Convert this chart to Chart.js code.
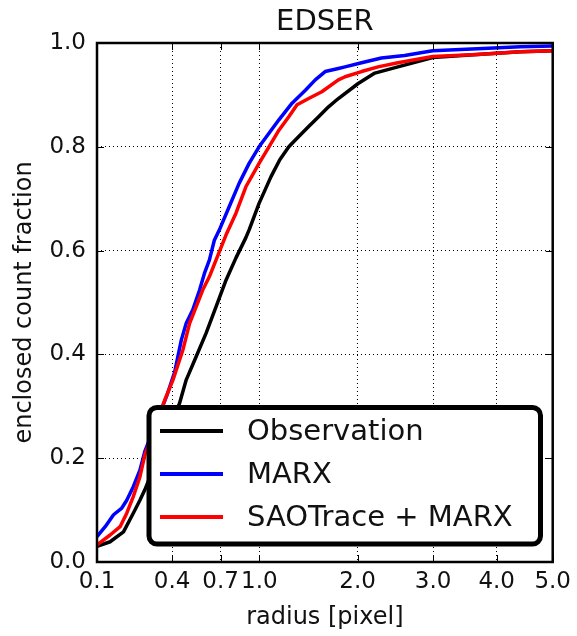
<!DOCTYPE html>
<html>
<head>
<meta charset="utf-8">
<title>EDSER</title>
<script src="https://cdn.jsdelivr.net/npm/chart.js@4.4.0/dist/chart.umd.min.js"></script>
<style>
  body { margin: 0; background: #fff; }
  canvas { display: block; }
</style>
</head>
<body>
<canvas id="myChart" width="577" height="636"></canvas>
<script>
// enclosed count fraction vs radius, three curves
const obsR = [0.100, 0.138, 0.183, 0.220, 0.247, 0.268, 0.441, 0.479, 0.539, 0.602, 0.669, 0.739, 0.813, 0.890, 0.916, 0.998, 1.100, 1.180, 1.264, 1.360, 1.459, 1.562, 1.668, 1.777, 2.007, 2.210, 2.509, 2.994, 3.680, 4.408, 5.000];
const obsFrac = [0.030, 0.039, 0.058, 0.094, 0.119, 0.139, 0.306, 0.351, 0.396, 0.441, 0.492, 0.543, 0.586, 0.625, 0.640, 0.691, 0.742, 0.775, 0.800, 0.820, 0.839, 0.858, 0.877, 0.893, 0.922, 0.942, 0.954, 0.972, 0.978, 0.983, 0.985];

const marxR = [0.100, 0.123, 0.149, 0.177, 0.195, 0.220, 0.247, 0.268, 0.371, 0.414, 0.451, 0.479, 0.518, 0.560, 0.591, 0.624, 0.657, 0.692, 0.763, 0.838, 0.916, 0.998, 1.083, 1.172, 1.295, 1.426, 1.527, 1.632, 1.777, 1.853, 2.047, 2.293, 2.599, 2.994, 3.680, 4.408, 5.000];
const marxFrac = [0.049, 0.068, 0.091, 0.104, 0.119, 0.145, 0.177, 0.213, 0.319, 0.366, 0.428, 0.460, 0.486, 0.524, 0.556, 0.582, 0.620, 0.640, 0.685, 0.730, 0.768, 0.800, 0.826, 0.852, 0.884, 0.909, 0.929, 0.945, 0.951, 0.954, 0.962, 0.971, 0.976, 0.985, 0.989, 0.993, 0.994];

const saoR = [0.100, 0.138, 0.171, 0.195, 0.220, 0.247, 0.268, 0.362, 0.405, 0.460, 0.499, 0.539, 0.580, 0.624, 0.669, 0.739, 0.813, 0.890, 0.998, 1.083, 1.172, 1.264, 1.343, 1.459, 1.596, 1.777, 1.853, 2.047, 2.251, 2.509, 2.994, 3.680, 4.408, 5.000];
const saoFrac = [0.033, 0.052, 0.068, 0.094, 0.126, 0.164, 0.206, 0.312, 0.351, 0.409, 0.460, 0.492, 0.524, 0.550, 0.582, 0.630, 0.672, 0.723, 0.768, 0.800, 0.832, 0.858, 0.881, 0.893, 0.906, 0.929, 0.935, 0.945, 0.954, 0.962, 0.974, 0.978, 0.983, 0.985];

const seriesNames = ['Observation', 'MARX', 'SAOTrace + MARX'];
const seriesColors = ['#000000', '#0000ff', '#ff0000'];

const xTicks = [0.1, 0.4, 0.7, 1.0, 2.0, 3.0, 4.0, 5.0];
const yTicks = [0.0, 0.2, 0.4, 0.6, 0.8, 1.0];

const FONT = "'DejaVu Sans', sans-serif";
Chart.defaults.font.family = FONT;
Chart.defaults.color = '#111';

// square-root axis for the radius
class SqrtScale extends Chart.LinearScale {
  getPixelForValue(value) {
    const a = Math.sqrt(this.min), b = Math.sqrt(this.max);
    return this.getPixelForDecimal((Math.sqrt(value) - a) / (b - a));
  }
  getValueForPixel(pixel) {
    const a = Math.sqrt(this.min), b = Math.sqrt(this.max);
    const s = a + this.getDecimalForPixel(pixel) * (b - a);
    return s * s;
  }
}
SqrtScale.id = 'sqrt';
SqrtScale.defaults = Chart.LinearScale.defaults;
Chart.register(SqrtScale);

function toPoints(xs, ys) {
  return xs.map((x, i) => ({ x: x, y: ys[i] }));
}

// title, frame, inward tick marks and the boxed legend
const framePlugin = {
  id: 'frame',
  afterDraw(chart) {
    const ctx = chart.ctx;
    const a = chart.chartArea;
    const xs = chart.scales.x, ys = chart.scales.y;
    ctx.save();

    ctx.fillStyle = '#111';
    ctx.font = '29px ' + FONT;
    ctx.textAlign = 'center';
    ctx.textBaseline = 'middle';
    ctx.fillText('EDSER', (a.left + a.right) / 2, 22);

    ctx.strokeStyle = '#000';
    ctx.lineWidth = 1;
    ctx.beginPath();
    xTicks.forEach(v => {
      const px = Math.round(xs.getPixelForValue(v)) + 0.5;
      ctx.moveTo(px, a.bottom); ctx.lineTo(px, a.bottom - 7);
      ctx.moveTo(px, a.top); ctx.lineTo(px, a.top + 7);
    });
    yTicks.forEach(v => {
      const py = Math.round(ys.getPixelForValue(v)) + 0.5;
      ctx.moveTo(a.left, py); ctx.lineTo(a.left + 7, py);
      ctx.moveTo(a.right, py); ctx.lineTo(a.right - 7, py);
    });
    ctx.stroke();

    ctx.lineWidth = 2.5;
    ctx.strokeRect(a.left, a.top, a.right - a.left, a.bottom - a.top);

    // legend
    const L = 149, T = 407.5, R = 540.5, B = 544;
    ctx.beginPath();
    ctx.roundRect(L, T, R - L, B - T, 8);
    ctx.fillStyle = '#fff';
    ctx.fill();
    ctx.lineWidth = 5;
    ctx.strokeStyle = '#000';
    ctx.stroke();

    const rows = [431, 474, 517];
    ctx.font = '29px ' + FONT;
    ctx.textBaseline = 'middle';
    ctx.textAlign = 'left';
    seriesNames.forEach((name, i) => {
      ctx.beginPath();
      ctx.strokeStyle = seriesColors[i];
      ctx.lineWidth = 4;
      ctx.moveTo(160, rows[i]);
      ctx.lineTo(223, rows[i]);
      ctx.stroke();
      ctx.fillStyle = '#111';
      ctx.fillText(name, 247, rows[i] + 1);
    });
    ctx.restore();
  }
};

const ctx = document.getElementById('myChart').getContext('2d');

const chart = new Chart(ctx, {
  type: 'line',
  data: {
    datasets: [
      { label: seriesNames[0], data: toPoints(obsR, obsFrac), borderColor: seriesColors[0], order: 2 },
      { label: seriesNames[1], data: toPoints(marxR, marxFrac), borderColor: seriesColors[1], order: 1 },
      { label: seriesNames[2], data: toPoints(saoR, saoFrac), borderColor: seriesColors[2], order: 0 }
    ]
  },
  options: {
    responsive: false,
    devicePixelRatio: 1,
    animation: false,
    layout: { padding: { left: 0, right: 21, top: 43, bottom: 0 } },
    elements: {
      line: { borderWidth: 3.5, tension: 0, fill: false, borderJoinStyle: 'round' },
      point: { radius: 0 }
    },
    plugins: {
      legend: { display: false },
      tooltip: { enabled: false },
      title: { display: false }
    },
    scales: {
      x: {
        type: 'sqrt',
        min: 0.1,
        max: 5.0,
        afterBuildTicks: (scale) => { scale.ticks = xTicks.map(v => ({ value: v })); },
        afterFit: (scale) => { scale.height = 74; },
        ticks: {
          autoSkip: false,
          maxRotation: 0,
          padding: 6,
          font: { size: 23 },
          callback: (v) => Number(v).toFixed(1)
        },
        grid: { color: '#000', lineWidth: 1, drawTicks: false },
        border: { display: false, dash: [1, 3] },
        title: {
          display: true,
          text: 'radius [pixel]',
          font: { size: 24 },
          padding: { top: 0, bottom: 4 }
        }
      },
      y: {
        min: 0,
        max: 1,
        afterBuildTicks: (scale) => { scale.ticks = yTicks.map(v => ({ value: v })); },
        afterFit: (scale) => { scale.width = 97; },
        ticks: {
          padding: 11,
          font: { size: 23 },
          callback: (v) => Number(v).toFixed(1)
        },
        grid: { color: '#000', lineWidth: 1, drawTicks: false },
        border: { display: false, dash: [1, 3] },
        title: {
          display: true,
          text: 'enclosed count fraction',
          font: { size: 24 },
          padding: { top: 10, bottom: 0 }
        }
      }
    }
  },
  plugins: [framePlugin]
});
</script>
</body>
</html>
